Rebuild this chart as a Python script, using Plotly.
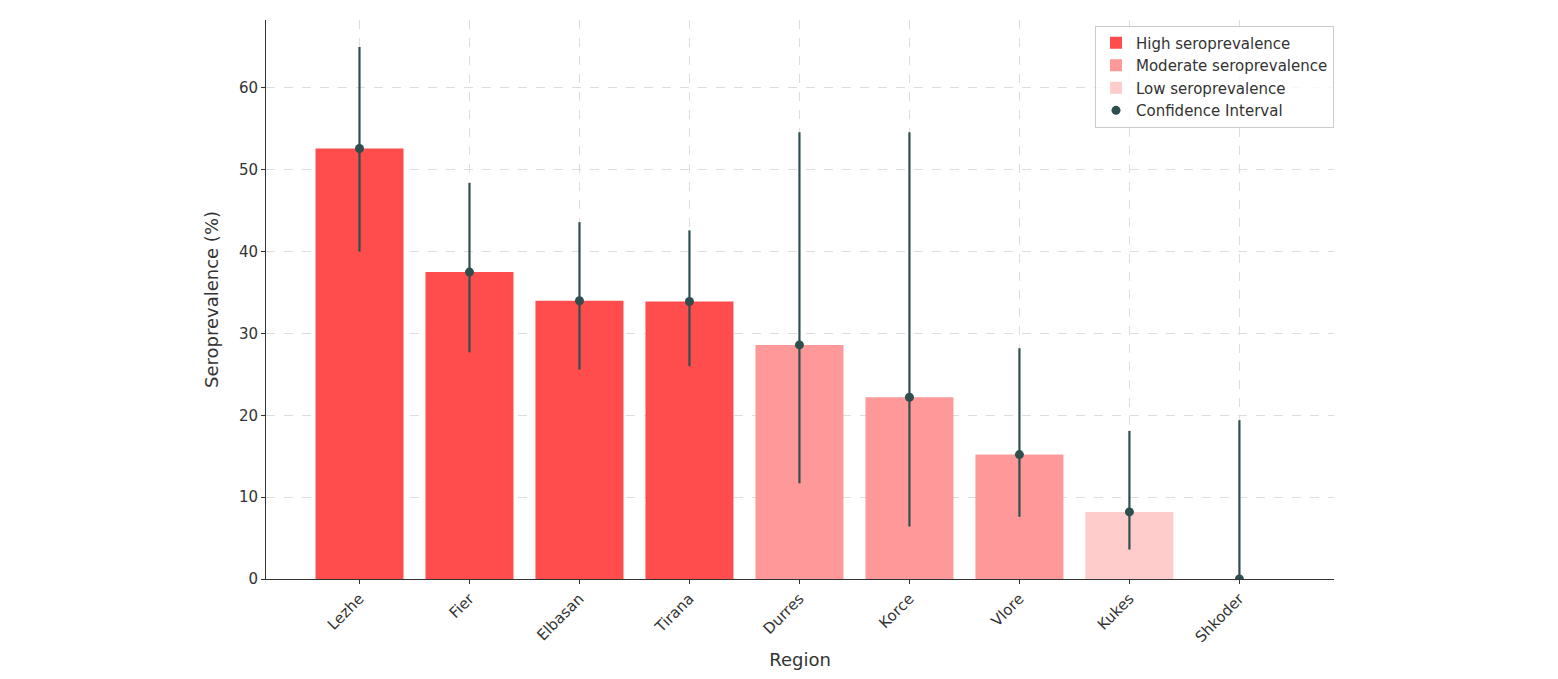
import plotly.graph_objects as go

regions = ["Lezhe", "Fier", "Elbasan", "Tirana", "Durres", "Korce", "Vlore", "Kukes", "Shkoder"]
prev = [52.6, 37.5, 34.0, 33.9, 28.6, 22.2, 15.2, 8.2, 0.0]
ci_low = [40.0, 27.7, 25.6, 26.0, 11.7, 6.4, 7.6, 3.6, 0.0]
ci_high = [65.0, 48.4, 43.6, 42.6, 54.6, 54.6, 28.2, 18.1, 19.4]
level = ["High", "High", "High", "High", "Moderate", "Moderate", "Moderate", "Low", "Low"]

colors = {"High": "#ff4c4c", "Moderate": "#ff9999", "Low": "#ffcccc"}

fig = go.Figure()
for lv in ["High", "Moderate", "Low"]:
    idx = [i for i, l in enumerate(level) if l == lv]
    fig.add_trace(go.Bar(
        x=[regions[i] for i in idx], y=[prev[i] for i in idx],
        name=f"{lv} seroprevalence", marker_color=colors[lv], width=0.8,
        marker_line_width=0))

fig.add_trace(go.Scatter(
    x=regions, y=prev, mode="markers", name="Confidence Interval",
    marker=dict(color="#2f4f4f", size=9),
    error_y=dict(type="data", symmetric=False,
                 array=[h - p for h, p in zip(ci_high, prev)],
                 arrayminus=[p - l for p, l in zip(prev, ci_low)],
                 color="#2f4f4f", thickness=2.2, width=0)))

fig.update_layout(
    width=1558, height=679, plot_bgcolor="white", paper_bgcolor="white",
    margin=dict(l=258, r=232, t=12, b=108),
    font=dict(family="DejaVu Sans", size=15, color="#333"),
    barmode="overlay", bargap=0.2,
    legend=dict(x=1.0, y=0.99, xanchor="right", yanchor="top",
                bordercolor="#ccc", borderwidth=1, bgcolor="rgba(255,255,255,0.8)",
                font=dict(size=15)),
    xaxis=dict(title=dict(text="Region", standoff=8), categoryorder="array", categoryarray=regions,
               range=[-0.85, 8.86], tickangle=-45, showline=True, linecolor="#333",
               showgrid=True, gridcolor="#ddd", griddash="dash", ticks="outside",
               ticklen=4, tickcolor="#333"),
    yaxis=dict(title="Seroprevalence (%)", range=[0, 68.3], dtick=10, showline=True,
               linecolor="#333", showgrid=True, gridcolor="#ddd", griddash="dash",
               ticks="outside", ticklen=4, tickcolor="#333", zeroline=False),
)

fig.write_html("out.html")
